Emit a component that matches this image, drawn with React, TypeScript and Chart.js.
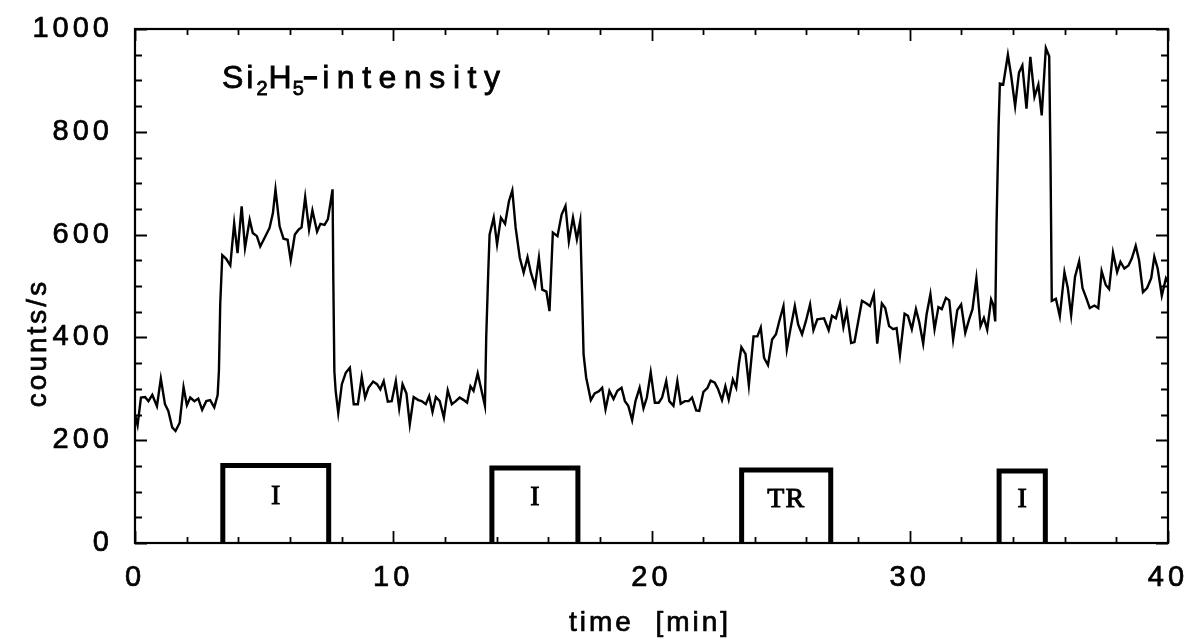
import { useEffect, useRef } from "react";
import { Chart, registerables } from "chart.js";

Chart.register(...registerables);

// ---- data ----
const timeMin = [
  0, 0.10, 0.23, 0.39, 0.52, 0.67, 0.85, 1.00, 1.16, 1.29,
  1.44, 1.57, 1.73, 1.88, 2.01, 2.14, 2.30, 2.45, 2.60, 2.76,
  2.91, 3.07, 3.20, 3.25, 3.30, 3.38, 3.53, 3.69, 3.84, 3.97,
  4.13, 4.26, 4.44, 4.56, 4.72, 4.85, 5.03, 5.21, 5.34, 5.44,
  5.60, 5.75, 5.91, 6.03, 6.19, 6.34, 6.45, 6.59, 6.74, 6.87,
  7.05, 7.18, 7.34, 7.47, 7.65, 7.68, 7.72, 7.77, 7.87, 8.01,
  8.16, 8.32, 8.47, 8.63, 8.78, 8.91, 9.04, 9.22, 9.37, 9.50,
  9.63, 9.79, 9.94, 10.10, 10.23, 10.36, 10.51, 10.64, 10.79, 10.97,
  11.10, 11.26, 11.39, 11.52, 11.65, 11.80, 11.96, 12.11, 12.27, 12.42,
  12.57, 12.73, 12.86, 12.99, 13.11, 13.27, 13.42, 13.55, 13.60, 13.68,
  13.73, 13.89, 14.02, 14.17, 14.33, 14.48, 14.61, 14.74, 14.90, 15.05,
  15.20, 15.33, 15.49, 15.64, 15.77, 15.93, 16.05, 16.18, 16.36, 16.52,
  16.67, 16.80, 16.96, 17.11, 17.24, 17.29, 17.37, 17.47, 17.65, 17.80,
  17.96, 18.09, 18.22, 18.37, 18.53, 18.68, 18.84, 18.97, 19.10, 19.25,
  19.38, 19.54, 19.69, 19.82, 19.97, 20.13, 20.28, 20.41, 20.57, 20.69,
  20.85, 21.00, 21.13, 21.29, 21.44, 21.57, 21.73, 21.85, 22.01, 22.17,
  22.29, 22.45, 22.58, 22.73, 22.86, 22.99, 23.15, 23.28, 23.38, 23.48,
  23.64, 23.77, 23.95, 24.10, 24.23, 24.36, 24.51, 24.67, 24.82, 24.95,
  25.11, 25.24, 25.39, 25.55, 25.68, 25.83, 25.98, 26.14, 26.27, 26.42,
  26.68, 26.86, 26.99, 27.14, 27.30, 27.43, 27.56, 27.73, 27.86, 28.15,
  28.30, 28.46, 28.61, 28.74, 28.92, 29.05, 29.20, 29.36, 29.49, 29.62,
  29.80, 29.93, 30.08, 30.24, 30.37, 30.52, 30.65, 30.80, 30.96, 31.11,
  31.24, 31.40, 31.53, 31.68, 31.84, 31.99, 32.15, 32.30, 32.43, 32.58,
  32.74, 32.87, 33.00, 33.15, 33.23, 33.31, 33.36, 33.44, 33.49, 33.62,
  33.80, 33.93, 34.08, 34.23, 34.36, 34.52, 34.67, 34.83, 34.98, 35.11,
  35.27, 35.40, 35.45, 35.50, 35.66, 35.81, 35.99, 36.12, 36.25, 36.40,
  36.56, 36.69, 36.84, 36.97, 37.15, 37.30, 37.43, 37.59, 37.72, 37.87,
  38.03, 38.16, 38.31, 38.47, 38.60, 38.75, 38.88, 39.03, 39.19, 39.35,
  39.47, 39.60, 39.76, 39.92, 40.00,
];

const countsPerSec = [
  250, 229, 283, 284, 276, 288, 266, 320, 270, 257,
  225, 218, 234, 303, 268, 283, 276, 281, 259, 276,
  278, 264, 288, 335, 464, 560, 553, 540, 622, 564,
  655, 574, 629, 603, 597, 577, 595, 613, 642, 688,
  616, 592, 590, 550, 600, 610, 614, 673, 610, 647,
  606, 621, 619, 630, 688, 510, 334, 296, 253, 309,
  331, 341, 270, 270, 323, 283, 302, 314, 309, 299,
  315, 275, 276, 315, 262, 309, 291, 231, 284, 278,
  276, 270, 286, 255, 284, 276, 244, 297, 270, 276,
  283, 278, 273, 305, 296, 330, 296, 267, 400, 529,
  600, 633, 581, 633, 621, 665, 686, 613, 555, 526,
  556, 526, 500, 555, 493, 489, 451, 604, 597, 639,
  656, 587, 633, 591, 626, 529, 367, 322, 278, 291,
  295, 302, 260, 296, 280, 296, 302, 276, 267, 239,
  276, 302, 262, 283, 332, 273, 273, 283, 315, 276,
  267, 315, 271, 276, 276, 283, 258, 257, 294, 302,
  316, 312, 299, 278, 305, 279, 318, 302, 347, 381,
  368, 307, 402, 402, 419, 360, 346, 396, 406, 432,
  461, 377, 419, 461, 425, 406, 432, 464, 414, 435,
  437, 414, 442, 437, 466, 420, 451, 389, 391, 471,
  467, 461, 484, 388, 466, 457, 422, 416, 418, 366,
  446, 442, 416, 455, 429, 388, 444, 484, 416, 459,
  455, 477, 472, 396, 453, 464, 409, 435, 455, 515,
  422, 438, 415, 474, 464, 431, 618, 812, 894, 892,
  950, 908, 850, 915, 929, 845, 946, 868, 892, 832,
  963, 947, 747, 471, 475, 441, 527, 496, 443, 518,
  548, 496, 476, 457, 462, 457, 529, 502, 494, 565,
  527, 547, 534, 540, 554, 578, 550, 488, 496, 515,
  557, 534, 481, 515, 508,
];

// exposure boxes (start / end in min, height in counts/s)
const boxStart = [3.40, 13.82, 23.49, 33.46];
const boxEnd = [7.50, 17.15, 26.94, 35.25];
const boxHeight = [151, 146, 142, 140];
const boxLabels = ["I", "I", "TR", "I"];

const xTickValues = [0, 10, 20, 30, 40];
const yTickValues = [0, 200, 400, 600, 800, 1000];
const xMinorStep = 2;
const yMinorStep = 50;

const titleParts = ["Si", "2", "H", "5", "\u2013", "intensity"];
const xAxisTitle = "time  [min]";
const yAxisTitle = "counts/s";

const SANS = '"Liberation Sans", Arial, Helvetica, sans-serif';
const SERIF = '"Liberation Serif", "Times New Roman", serif';

const decorPlugin = {
  id: "decor",
  beforeDraw(chart: any) {
    const ctx = chart.ctx;
    ctx.save();
    ctx.fillStyle = "#fff";
    ctx.fillRect(0, 0, chart.width, chart.height);
    ctx.restore();
    ctx.letterSpacing = "4px";
  },
  afterDraw(chart: any) {
    const { ctx, chartArea: a, scales } = chart;
    const xs = scales.x;
    const ys = scales.y;
    ctx.save();
    ctx.strokeStyle = "#000";
    ctx.fillStyle = "#000";
    ctx.lineWidth = 2.2;
    ctx.strokeRect(a.left, a.top, a.right - a.left, a.bottom - a.top);

    // inward ticks
    ctx.lineWidth = 1.8;
    ctx.beginPath();
    for (let v = xs.min; v <= xs.max + 1e-9; v += xMinorStep) {
      const px = Math.round(xs.getPixelForValue(v)) + 0.5;
      const major = xTickValues.includes(v);
      const len = major ? 12 : 6;
      ctx.moveTo(px, a.bottom);
      ctx.lineTo(px, a.bottom - len);
      ctx.moveTo(px, a.top);
      ctx.lineTo(px, a.top + len);
    }
    for (let v = ys.min; v <= ys.max + 1e-9; v += yMinorStep) {
      const py = Math.round(ys.getPixelForValue(v)) + 0.5;
      const major = yTickValues.includes(v);
      const len = major ? 12 : 7;
      ctx.moveTo(a.left, py);
      ctx.lineTo(a.left + len, py);
      ctx.moveTo(a.right, py);
      ctx.lineTo(a.right - len, py);
    }
    ctx.stroke();

    const draw = (t: string, x: number, y: number, sw: number) => {
      ctx.fillText(t, x, y);
      if (sw > 0) {
        ctx.lineWidth = sw;
        ctx.strokeText(t, x, y);
      }
    };

    // box labels
    ctx.textAlign = "center";
    ctx.textBaseline = "middle";
    boxLabels.forEach((lab, i) => {
      const cx = xs.getPixelForValue((boxStart[i] + boxEnd[i]) / 2);
      const cy = ys.getPixelForValue(boxHeight[i] * 0.6);
      ctx.font = `28px ${SERIF}`;
      ctx.letterSpacing = lab.length > 1 ? "1px" : "0px";
      draw(lab, cx, cy, 0.9);
    });

    // chart title with sub/superscripts
    ctx.textAlign = "left";
    ctx.textBaseline = "alphabetic";
    let x = 222;
    const base = 88;
    const big = `32px ${SANS}`;
    const small = `20px ${SANS}`;
    const put = (t: string, font: string, dy: number, ls: number, sw = 0.8) => {
      ctx.font = font;
      ctx.letterSpacing = "0px";
      const w = ctx.measureText(t).width + ls * t.length;
      ctx.letterSpacing = `${ls}px`;
      draw(t, x, base + dy, sw);
      x += w;
    };
    put(titleParts[0], big, 0, 3);
    put(titleParts[1], small, 7, 1);
    put(titleParts[2], big, 0, 1);
    put(titleParts[3], small, 7, 0);
    put(titleParts[4], `bold 24px ${SANS}`, -4, 0, 1.4);
    x += 5;
    ctx.font = big;
    ctx.letterSpacing = "0px";
    const w0 = ctx.measureText(titleParts[5]).width;
    const ls = Math.max(0, (500 - x - w0) / (titleParts[5].length - 1));
    put(titleParts[5], big, 0, ls);

    // axis titles
    ctx.font = `28px ${SANS}`;
    ctx.letterSpacing = "3px";
    ctx.textAlign = "center";
    draw(xAxisTitle, 650, 631, 0.7);
    ctx.save();
    ctx.translate(46, 343);
    ctx.rotate(-Math.PI / 2);
    draw(yAxisTitle, 0, 0, 0.7);
    ctx.restore();

    ctx.restore();
  },
};

export default function App() {
  const canvasRef = useRef<HTMLCanvasElement | null>(null);

  useEffect(() => {
    document.body.style.margin = "0";
    const canvas = canvasRef.current;
    if (!canvas) return;

    const lineData = timeMin.map((t, i) => ({ x: t, y: countsPerSec[i] }));
    const boxSets = boxStart.map((s, i) => ({
      label: `box${i}`,
      data: [
        { x: s, y: 0 },
        { x: s, y: boxHeight[i] },
        { x: boxEnd[i], y: boxHeight[i] },
        { x: boxEnd[i], y: 0 },
      ],
      borderColor: "#000",
      borderWidth: 5,
      borderJoinStyle: "miter" as const,
      pointRadius: 0,
      tension: 0,
      fill: false,
    }));

    const tickFont = { family: SANS, size: 29 };

    const chart = new Chart(canvas, {
      type: "line",
      data: {
        datasets: [
          {
            label: "Si2H5- intensity",
            data: lineData,
            borderColor: "#000",
            borderWidth: 2.4,
            pointRadius: 0,
            tension: 0,
            fill: false,
          },
          ...boxSets,
        ],
      },
      options: {
        responsive: false,
        animation: false,
        devicePixelRatio: 1,
        layout: { padding: { top: 29, right: 24, left: 0, bottom: 0 } },
        plugins: { legend: { display: false }, tooltip: { enabled: false }, title: { display: false } },
        scales: {
          x: {
            type: "linear",
            min: 0,
            max: 40,
            afterBuildTicks: (s: any) => {
              s.ticks = xTickValues.map((v) => ({ value: v }));
            },
            ticks: {
              color: "#000",
              font: tickFont,
              padding: 18,
              maxRotation: 0,
              textStrokeColor: "#000",
              textStrokeWidth: 0.7,
              callback: (v: any) => String(v),
            },
            grid: { display: false, drawTicks: false },
            border: { display: false },
            afterFit: (s: any) => {
              s.height = 99;
              s.paddingLeft = 0;
              s.paddingRight = 0;
            },
          },
          y: {
            type: "linear",
            min: 0,
            max: 1000,
            afterBuildTicks: (s: any) => {
              s.ticks = yTickValues.map((v) => ({ value: v }));
            },
            ticks: {
              color: "#000",
              font: tickFont,
              padding: 22,
              textStrokeColor: "#000",
              textStrokeWidth: 0.7,
              callback: (v: any) => String(v),
            },
            grid: { display: false, drawTicks: false },
            border: { display: false },
            afterFit: (s: any) => {
              s.width = 135;
              s.paddingTop = 0;
              s.paddingBottom = 0;
            },
          },
        },
      },
      plugins: [decorPlugin],
    });

    return () => chart.destroy();
  }, []);

  return (
    <div style={{ width: 1192, height: 642 }}>
      <canvas ref={canvasRef} width={1192} height={642} style={{ display: "block" }} />
    </div>
  );
}
